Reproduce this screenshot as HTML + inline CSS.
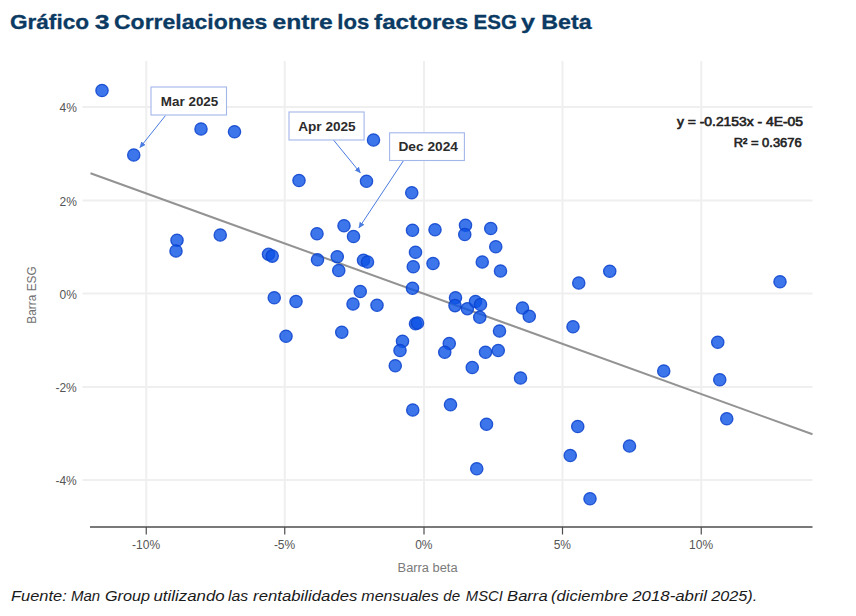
<!DOCTYPE html>
<html><head><meta charset="utf-8"><title>Grafico 3</title>
<style>
html,body{margin:0;padding:0;background:#fff;}
body{width:856px;height:616px;overflow:hidden;font-family:"Liberation Sans",sans-serif;}
svg{display:block;}
text{font-family:"Liberation Sans",sans-serif;}
</style></head><body>
<svg width="856" height="616" viewBox="0 0 856 616">
<rect width="856" height="616" fill="#ffffff"/>
<g font-size="21" font-weight="700" fill="#0b3a63" stroke="#0b3a63" stroke-width="0.3">
<text x="9.9" y="29.2" textLength="79.2" lengthAdjust="spacingAndGlyphs">Gráfico</text>
<text x="94.7" y="29.2" textLength="14.8" lengthAdjust="spacingAndGlyphs">3</text>
<text x="114.0" y="29.2" textLength="153.4" lengthAdjust="spacingAndGlyphs">Correlaciones</text>
<text x="272.5" y="29.2" textLength="60.3" lengthAdjust="spacingAndGlyphs">entre</text>
<text x="337.29999999999995" y="29.2" textLength="32.0" lengthAdjust="spacingAndGlyphs">los</text>
<text x="374.09999999999997" y="29.2" textLength="94.2" lengthAdjust="spacingAndGlyphs">factores</text>
<text x="473.59999999999997" y="29.2" textLength="43.5" lengthAdjust="spacingAndGlyphs">ESG</text>
<text x="520.9" y="29.2" textLength="14.0" lengthAdjust="spacingAndGlyphs">y</text>
<text x="541.3" y="29.2" textLength="50.4" lengthAdjust="spacingAndGlyphs">Beta</text>
</g>
<line x1="146.25" y1="61" x2="146.25" y2="526.5" stroke="#efefef" stroke-width="2"/>
<line x1="284.75" y1="61" x2="284.75" y2="526.5" stroke="#efefef" stroke-width="2"/>
<line x1="424" y1="61" x2="424" y2="526.5" stroke="#efefef" stroke-width="2"/>
<line x1="562.5" y1="61" x2="562.5" y2="526.5" stroke="#efefef" stroke-width="2"/>
<line x1="701.25" y1="61" x2="701.25" y2="526.5" stroke="#efefef" stroke-width="2"/>
<line x1="82.5" y1="107" x2="812.5" y2="107" stroke="#efefef" stroke-width="2"/>
<line x1="82.5" y1="200.5" x2="812.5" y2="200.5" stroke="#efefef" stroke-width="2"/>
<line x1="82.5" y1="293.5" x2="812.5" y2="293.5" stroke="#efefef" stroke-width="2"/>
<line x1="82.5" y1="387" x2="812.5" y2="387" stroke="#efefef" stroke-width="2"/>
<line x1="82.5" y1="480" x2="812.5" y2="480" stroke="#efefef" stroke-width="2"/>
<line x1="90" y1="527" x2="812.5" y2="527" stroke="#4d4d4d" stroke-width="1.3"/>
<line x1="146.25" y1="527" x2="146.25" y2="534.5" stroke="#4d4d4d" stroke-width="1.2"/>
<text x="146.05" y="549" font-size="12" fill="#555555" text-anchor="middle">-10%</text>
<line x1="284.75" y1="527" x2="284.75" y2="534.5" stroke="#4d4d4d" stroke-width="1.2"/>
<text x="284.55" y="549" font-size="12" fill="#555555" text-anchor="middle">-5%</text>
<line x1="424" y1="527" x2="424" y2="534.5" stroke="#4d4d4d" stroke-width="1.2"/>
<text x="423.8" y="549" font-size="12" fill="#555555" text-anchor="middle">0%</text>
<line x1="562.5" y1="527" x2="562.5" y2="534.5" stroke="#4d4d4d" stroke-width="1.2"/>
<text x="562.3" y="549" font-size="12" fill="#555555" text-anchor="middle">5%</text>
<line x1="701.25" y1="527" x2="701.25" y2="534.5" stroke="#4d4d4d" stroke-width="1.2"/>
<text x="701.05" y="549" font-size="12" fill="#555555" text-anchor="middle">10%</text>
<text x="76.8" y="112.4" font-size="12" fill="#555555" text-anchor="end">4%</text>
<text x="76.8" y="205.9" font-size="12" fill="#555555" text-anchor="end">2%</text>
<text x="76.8" y="298.9" font-size="12" fill="#555555" text-anchor="end">0%</text>
<text x="76.8" y="392.4" font-size="12" fill="#555555" text-anchor="end">-2%</text>
<text x="76.8" y="485.4" font-size="12" fill="#555555" text-anchor="end">-4%</text>
<text x="427.6" y="571.5" font-size="12" fill="#7a7a7a" text-anchor="middle" textLength="60" lengthAdjust="spacingAndGlyphs">Barra beta</text>
<text transform="translate(36,295) rotate(-90)" font-size="12" fill="#707070" text-anchor="middle" textLength="57.3" lengthAdjust="spacingAndGlyphs">Barra ESG</text>
<line x1="90.5" y1="173.25" x2="812.5" y2="434.25" stroke="#939393" stroke-width="2"/>
<g fill="#0d52e6" fill-opacity="0.8" stroke="#0b42cc" stroke-opacity="0.85" stroke-width="1.3">
<circle cx="102" cy="90.5" r="6.15"/>
<circle cx="201" cy="129" r="6.15"/>
<circle cx="133.75" cy="155" r="6.15"/>
<circle cx="234.5" cy="131.75" r="6.15"/>
<circle cx="373.5" cy="140" r="6.15"/>
<circle cx="177" cy="240.25" r="6.15"/>
<circle cx="176" cy="251" r="6.15"/>
<circle cx="299" cy="180.5" r="6.15"/>
<circle cx="366.5" cy="181.25" r="6.15"/>
<circle cx="411.75" cy="192.75" r="6.15"/>
<circle cx="220.25" cy="235" r="6.15"/>
<circle cx="317" cy="233.75" r="6.15"/>
<circle cx="344" cy="225.75" r="6.15"/>
<circle cx="353.5" cy="236.5" r="6.15"/>
<circle cx="412.5" cy="230.25" r="6.15"/>
<circle cx="415.5" cy="252.25" r="6.15"/>
<circle cx="268.5" cy="254.3" r="6.15"/>
<circle cx="272.2" cy="256.1" r="6.15"/>
<circle cx="317.5" cy="259.75" r="6.15"/>
<circle cx="337.25" cy="256.75" r="6.15"/>
<circle cx="363.5" cy="260.25" r="6.15"/>
<circle cx="367.5" cy="262" r="6.15"/>
<circle cx="338.75" cy="270.5" r="6.15"/>
<circle cx="413.25" cy="266.75" r="6.15"/>
<circle cx="433" cy="263.5" r="6.15"/>
<circle cx="412.5" cy="288.25" r="6.15"/>
<circle cx="360.25" cy="291.5" r="6.15"/>
<circle cx="274.25" cy="297.75" r="6.15"/>
<circle cx="296" cy="301.5" r="6.15"/>
<circle cx="353" cy="304" r="6.15"/>
<circle cx="377" cy="305.25" r="6.15"/>
<circle cx="435" cy="229.75" r="6.15"/>
<circle cx="465.5" cy="225.25" r="6.15"/>
<circle cx="464.75" cy="234.5" r="6.15"/>
<circle cx="490.75" cy="228.5" r="6.15"/>
<circle cx="495.75" cy="246.75" r="6.15"/>
<circle cx="482.25" cy="262" r="6.15"/>
<circle cx="500.5" cy="271" r="6.15"/>
<circle cx="578.75" cy="283" r="6.15"/>
<circle cx="609.75" cy="271.25" r="6.15"/>
<circle cx="455.5" cy="297.75" r="6.15"/>
<circle cx="455" cy="305.6" r="6.15"/>
<circle cx="467.4" cy="308.7" r="6.15"/>
<circle cx="475.5" cy="301.5" r="6.15"/>
<circle cx="480.5" cy="304.5" r="6.15"/>
<circle cx="522.5" cy="308" r="6.15"/>
<circle cx="780" cy="281.75" r="6.15"/>
<circle cx="286" cy="336.25" r="6.15"/>
<circle cx="341.75" cy="332.25" r="6.15"/>
<circle cx="415.5" cy="323.75" r="6.15"/>
<circle cx="417.5" cy="323" r="6.15"/>
<circle cx="402.5" cy="341.25" r="6.15"/>
<circle cx="400" cy="350.5" r="6.15"/>
<circle cx="395.25" cy="365.75" r="6.15"/>
<circle cx="412.75" cy="410" r="6.15"/>
<circle cx="479.75" cy="317.25" r="6.15"/>
<circle cx="499.5" cy="331" r="6.15"/>
<circle cx="529.25" cy="316.25" r="6.15"/>
<circle cx="573" cy="326.75" r="6.15"/>
<circle cx="449.25" cy="343.5" r="6.15"/>
<circle cx="444.75" cy="352.25" r="6.15"/>
<circle cx="485.5" cy="352.25" r="6.15"/>
<circle cx="498.25" cy="350.5" r="6.15"/>
<circle cx="472.25" cy="367.5" r="6.15"/>
<circle cx="520.5" cy="378" r="6.15"/>
<circle cx="450.5" cy="404.75" r="6.15"/>
<circle cx="486.5" cy="424.25" r="6.15"/>
<circle cx="577.75" cy="426.5" r="6.15"/>
<circle cx="629.5" cy="446" r="6.15"/>
<circle cx="570.25" cy="455.5" r="6.15"/>
<circle cx="717.75" cy="342.25" r="6.15"/>
<circle cx="663.75" cy="371" r="6.15"/>
<circle cx="719.75" cy="379.75" r="6.15"/>
<circle cx="726.75" cy="418.75" r="6.15"/>
<circle cx="476.75" cy="468.75" r="6.15"/>
<circle cx="590" cy="498.75" r="6.15"/>
</g>
<defs><marker id="ah" markerWidth="7" markerHeight="7" refX="5.5" refY="2.75" orient="auto" markerUnits="userSpaceOnUse"><path d="M0,0 L6.2,2.75 L0,5.5 Z" fill="#4a7be0"/></marker></defs>
<g stroke="#4a7be0" stroke-width="1" fill="none">
<line x1="165.5" y1="115.5" x2="140" y2="147.5" marker-end="url(#ah)"/>
<line x1="333.5" y1="140" x2="360.25" y2="172.75" marker-end="url(#ah)"/>
<line x1="403.25" y1="161" x2="359" y2="227.75" marker-end="url(#ah)"/>
</g>
<rect x="151" y="87" width="75.5" height="28" fill="#ffffff" stroke="#a3b6ea" stroke-width="1.1"/>
<text x="189.55" y="105.5" font-size="12.5" font-weight="700" fill="#2b2b2b" text-anchor="middle" textLength="57.5" lengthAdjust="spacingAndGlyphs">Mar 2025</text>
<rect x="289" y="112" width="75.10000000000002" height="28" fill="#ffffff" stroke="#a3b6ea" stroke-width="1.1"/>
<text x="326.95" y="130.5" font-size="12.5" font-weight="700" fill="#2b2b2b" text-anchor="middle" textLength="57.5" lengthAdjust="spacingAndGlyphs">Apr 2025</text>
<rect x="389.6" y="132.8" width="74.79999999999995" height="27.69999999999999" fill="#ffffff" stroke="#a3b6ea" stroke-width="1.1"/>
<text x="428.2" y="151.15" font-size="12.5" font-weight="700" fill="#2b2b2b" text-anchor="middle" textLength="59.5" lengthAdjust="spacingAndGlyphs">Dec 2024</text>
<text x="803" y="126" font-size="12" fill="#222222" stroke="#222222" stroke-width="0.6" text-anchor="end" textLength="126" lengthAdjust="spacingAndGlyphs">y = -0.2153x - 4E-05</text>
<text x="801.7" y="147" font-size="12" fill="#222222" stroke="#222222" stroke-width="0.6" text-anchor="end" textLength="68" lengthAdjust="spacingAndGlyphs">R² = 0.3676</text>
<g font-size="15" font-style="italic" fill="#1a1a1a">
<text x="11.0" y="601" textLength="55.7" lengthAdjust="spacingAndGlyphs">Fuente:</text>
<text x="70.9" y="601" textLength="29.2" lengthAdjust="spacingAndGlyphs">Man</text>
<text x="104.9" y="601" textLength="45.1" lengthAdjust="spacingAndGlyphs">Group</text>
<text x="153.5" y="601" textLength="71.2" lengthAdjust="spacingAndGlyphs">utilizando</text>
<text x="227.9" y="601" textLength="20.2" lengthAdjust="spacingAndGlyphs">las</text>
<text x="253.1" y="601" textLength="104.3" lengthAdjust="spacingAndGlyphs">rentabilidades</text>
<text x="361.3" y="601" textLength="77.5" lengthAdjust="spacingAndGlyphs">mensuales</text>
<text x="443.3" y="601" textLength="16.8" lengthAdjust="spacingAndGlyphs">de</text>
<text x="465.8" y="601" textLength="37.0" lengthAdjust="spacingAndGlyphs">MSCI</text>
<text x="507.1" y="601" textLength="40.5" lengthAdjust="spacingAndGlyphs">Barra</text>
<text x="551.1" y="601" textLength="77.0" lengthAdjust="spacingAndGlyphs">(diciembre</text>
<text x="632.2" y="601" textLength="74.9" lengthAdjust="spacingAndGlyphs">2018-abril</text>
<text x="711.2" y="601" textLength="46.0" lengthAdjust="spacingAndGlyphs">2025).</text>
</g>
</svg></body></html>
